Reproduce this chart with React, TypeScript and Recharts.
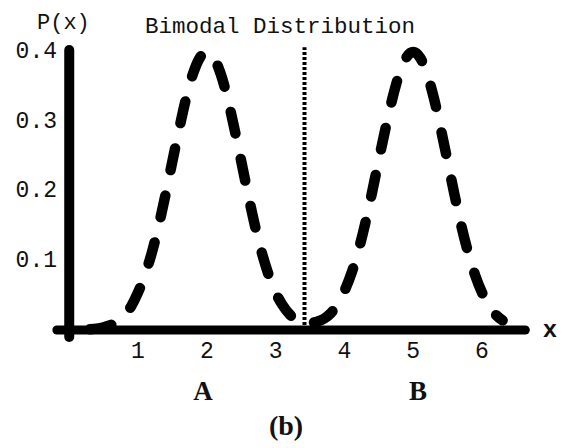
import React from "react";
import { ComposedChart, Line, XAxis, YAxis, ReferenceLine } from "recharts";

// sampled density of the two-peaked curve
const xs = [
  0.3, 0.4, 0.5, 0.6, 0.7, 0.8, 0.9, 1.0, 1.1, 1.2, 1.3, 1.4, 1.5, 1.6, 1.7,
  1.8, 1.9, 2.0, 2.1, 2.2, 2.3, 2.4, 2.5, 2.6, 2.7, 2.8, 2.9, 3.0, 3.1, 3.2,
  3.3, 3.4, 3.5, 3.6, 3.7, 3.8, 3.9, 4.0, 4.1, 4.2, 4.3, 4.4, 4.5, 4.6, 4.7,
  4.8, 4.9, 5.0, 5.1, 5.2, 5.3, 5.4, 5.5, 5.6, 5.7, 5.8, 5.9, 6.0, 6.1, 6.2,
  6.3,
];
const px = [
  0.001, 0.002, 0.004, 0.007, 0.012, 0.02, 0.034, 0.054, 0.079, 0.111, 0.15,
  0.195, 0.243, 0.29, 0.334, 0.369, 0.392, 0.4, 0.392, 0.369, 0.334, 0.29,
  0.243, 0.195, 0.15, 0.111, 0.079, 0.054, 0.036, 0.023, 0.014, 0.009, 0.01,
  0.012, 0.016, 0.024, 0.037, 0.056, 0.081, 0.113, 0.152, 0.197, 0.245, 0.291,
  0.334, 0.369, 0.392, 0.4, 0.392, 0.369, 0.334, 0.29, 0.243, 0.195, 0.15,
  0.111, 0.079, 0.054, 0.036, 0.022, 0.014,
];
const xTicks = [1, 2, 3, 4, 5, 6];
const yTicks = [0.1, 0.2, 0.3, 0.4];
const splitAt = 3.42;

const rows = xs.map((x, i) => ({ x, p: px[i] }));

const mono = "'Liberation Mono', 'Courier New', monospace";
const serif = "'Liberation Serif', 'Times New Roman', serif";

const XTick = (props: any) => (
  <text
    x={props.x}
    y={props.y + 8}
    textAnchor="middle"
    dominantBaseline="central"
    fontFamily={mono}
    fontSize={23}
    fill="#111"
  >
    {props.payload.value}
  </text>
);

const YTick = (props: any) => (
  <text
    x={props.x + 8.4}
    y={props.y}
    textAnchor="end"
    dominantBaseline="central"
    fontFamily={mono}
    fontSize={23}
    fill="#111"
  >
    {props.payload.value}
  </text>
);

export default function App() {
  return (
    <div
      style={{
        position: "absolute",
        left: 0,
        top: 0,
        width: 565,
        height: 448,
        background: "#fff",
      }}
    >
      <ComposedChart
        width={565}
        height={448}
        data={rows}
        margin={{ top: 38.1, right: 28, bottom: 74.1, left: 0 }}
      >
        <XAxis
          dataKey="x"
          type="number"
          domain={[-0.3, 6.8]}
          ticks={xTicks}
          axisLine={false}
          tickLine={false}
          tickSize={0}
          tickMargin={0}
          height={30}
          tick={<XTick />}
        />
        <YAxis
          type="number"
          domain={[-0.02, 0.42]}
          ticks={yTicks}
          axisLine={false}
          tickLine={false}
          tickSize={0}
          tickMargin={0}
          width={48.6}
          tick={<YTick />}
        />
        {/* axes crossing at the origin */}
        <ReferenceLine
          segment={[
            { x: -0.18, y: 0 },
            { x: 6.63, y: 0 },
          ]}
          stroke="#000"
          strokeWidth={9}
          strokeLinecap="round"
        />
        <ReferenceLine
          segment={[
            { x: 0, y: -0.01 },
            { x: 0, y: 0.403 },
          ]}
          stroke="#000"
          strokeWidth={10}
          strokeLinecap="round"
        />
        <ReferenceLine
          segment={[
            { x: splitAt, y: 0 },
            { x: splitAt, y: 0.407 },
          ]}
          stroke="#000"
          strokeWidth={4}
          strokeDasharray="3 2"
        />
        <Line
          type="monotone"
          dataKey="p"
          stroke="#000"
          strokeWidth={10.5}
          strokeDasharray="22 26"
          strokeLinecap="round"
          strokeLinejoin="round"
          dot={false}
          activeDot={false}
          isAnimationActive={false}
        />
      </ComposedChart>
      <svg
        width={565}
        height={448}
        style={{ position: "absolute", left: 0, top: 0, pointerEvents: "none" }}
      >
        <text x={37} y={29} fontFamily={mono} fontSize={22} fill="#111">
          P(x)
        </text>
        <text x={145} y={33} fontFamily={mono} fontSize={22.5} fill="#111">
          Bimodal Distribution
        </text>
        <text
          x={550}
          y={337}
          textAnchor="middle"
          fontFamily={mono}
          fontSize={24}
          fontWeight="bold"
          fill="#111"
        >
          x
        </text>
        <text
          x={203}
          y={400}
          textAnchor="middle"
          fontFamily={serif}
          fontSize={27}
          fontWeight="bold"
          fill="#111"
        >
          A
        </text>
        <text
          x={418}
          y={400}
          textAnchor="middle"
          fontFamily={serif}
          fontSize={27}
          fontWeight="bold"
          fill="#111"
        >
          B
        </text>
        <text
          x={286}
          y={435}
          textAnchor="middle"
          fontFamily={serif}
          fontSize={28}
          fontWeight="bold"
          fill="#111"
        >
          (b)
        </text>
      </svg>
    </div>
  );
}
